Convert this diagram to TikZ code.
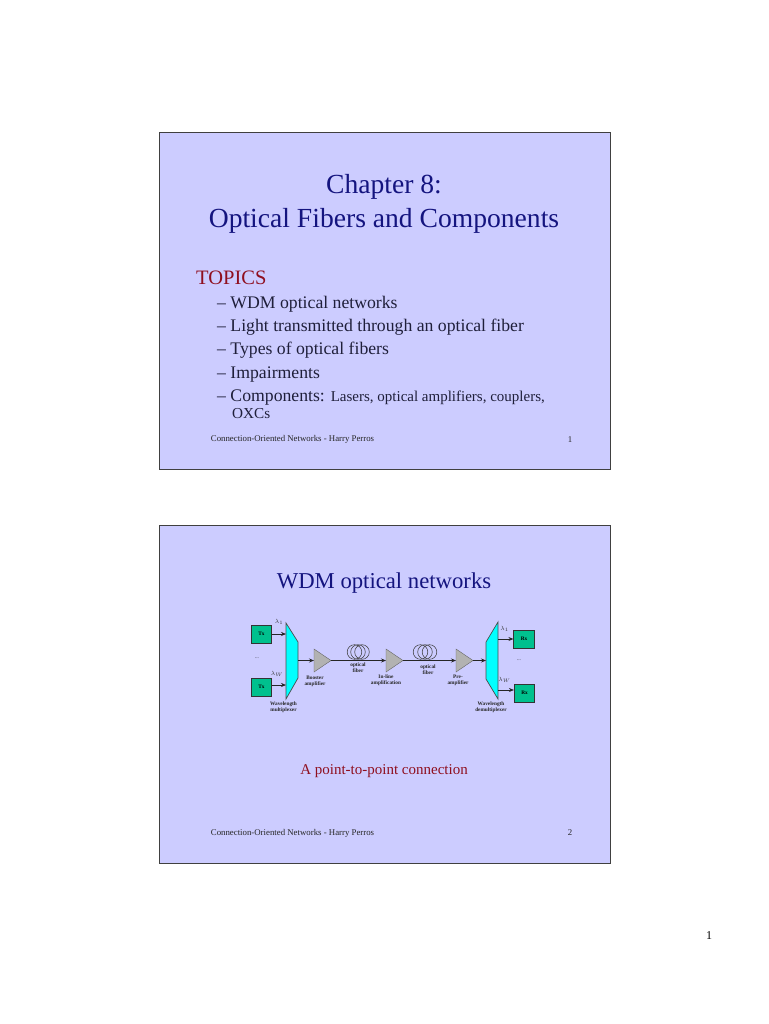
\documentclass[tikz,border=0pt]{standalone}
\usepackage{fontspec}
\setmainfont{Liberation Serif}
\usepackage{xcolor}
\usetikzlibrary{arrows.meta}
\definecolor{slidebg}{HTML}{CCCCFF}
\definecolor{titleblue}{HTML}{14147F}
\definecolor{topicred}{HTML}{8F0F1F}
\definecolor{bodyink}{HTML}{1F1F3A}
\definecolor{txgreen}{HTML}{00C08E}
\definecolor{muxcyan}{HTML}{00FFFF}
\definecolor{ampgray}{HTML}{B2B2B2}
\tikzset{
    slide/.style={draw=black!75, line width=0.9pt, fill=slidebg},
    titletext/.style={text=titleblue, font=\fontsize{27.6}{27.6}\selectfont, inner sep=0pt},
    subtitle/.style={text=titleblue, font=\fontsize{22.7}{22.7}\selectfont, inner sep=0pt},
    bullet/.style={text=bodyink, anchor=base west, font=\fontsize{17.7}{17.7}\selectfont, inner sep=0pt},
    footer/.style={text=black!85, font=\fontsize{8.8}{8.8}\selectfont, inner sep=0pt},
    tiny/.style={text=black!85, font=\fontsize{5.3}{5.5}\selectfont\bfseries, inner sep=0pt, align=center},
    lam/.style={text=black!80, font=\fontsize{5.6}{6}\selectfont, inner sep=0pt},
    endbox/.style={draw=black!80, line width=0.7pt, fill=txgreen, minimum width=20.5pt, minimum height=18pt, inner sep=0pt, text=black, font=\fontsize{5.3}{5.5}\selectfont\bfseries},
    muxshape/.style={draw=black!70, line width=0.7pt, fill=muxcyan},
    ampshape/.style={draw=black!60, line width=0.4pt, fill=ampgray},
    coil/.style={draw=black!75, line width=0.55pt},
    link/.style={line width=0.7pt, draw=black!85, -{Stealth[length=5pt,width=4pt]}},
}
\begin{document}
\begin{tikzpicture}[x=1pt,y=-1pt]
    \useasboundingbox[fill=white] (0,0) rectangle (768,1024);
    % slide frames
    \draw[slide] (159,132) rectangle (610,469);
    \draw[slide] (159,525) rectangle (610,863);
    % first slide
    \node[titletext] (chap) at (384,187) {Chapter 8:};
    \node[titletext] (chapname) at (384,220.5) {Optical Fibers and Components};
    \node[anchor=base west, inner sep=0pt, text=topicred, font=\fontsize{20.5}{20.5}\selectfont] (topics) at (196,284) {TOPICS};
    \node[bullet] (item1) at (217,308) {-- WDM optical networks};
    \node[bullet] (item2) at (217,331) {-- Light transmitted through an optical fiber};
    \node[bullet] (item3) at (217,354.5) {-- Types of optical fibers};
    \node[bullet] (item4) at (217,378) {-- Impairments};
    \node[bullet] (item5) at (217,401) {-- Components: {\fontsize{15}{15}\selectfont Lasers, optical amplifiers, couplers,}};
    \node[bullet, font=\fontsize{15.2}{15.2}\selectfont] (item5b) at (232,418) {OXCs};
    \node[footer] (foot1) at (292.5,439.5) {Connection-Oriented Networks - Harry Perros};
    \node[footer] (num1) at (570,439.5) {1};
    % second slide
    \node[subtitle] (wdm) at (384,583) {WDM optical networks};
    \node[inner sep=0pt, text=topicred, font=\fontsize{15}{15}\selectfont] (p2p) at (384,771) {A point-to-point connection};
    \node[footer] (foot2) at (292.5,833) {Connection-Oriented Networks - Harry Perros};
    \node[footer] (num2) at (570,833) {2};
    \node[inner sep=0pt, font=\fontsize{12}{12}\selectfont] (page) at (709,935.5) {1};
    % multiplexers
    \draw[muxshape] (286,623) -- (298,642) -- (298,678) -- (286,699) -- cycle;
    \draw[muxshape] (498,622) -- (486,642) -- (486,679) -- (498,699) -- cycle;
    \coordinate (muxin1) at (286,634);
    \coordinate (muxin2) at (286,685);
    \coordinate (muxout) at (298,660.5);
    \coordinate (demuxin) at (486,660.5);
    \coordinate (demuxout1) at (498,639);
    \coordinate (demuxout2) at (498,690);
    % amplifiers
    \foreach \x/\nm in {314/a,386/b,456/c}{
        \draw[ampshape] (\x,649) -- (\x+17,660.5) -- (\x,672) -- cycle;
        \coordinate (amp\nm-in) at (\x,660.5);
        \coordinate (amp\nm-out) at (\x+17,660.5);
    }
    % end boxes
    \node[endbox] (tx1) at (261.5,634) {Tx};
    \node[endbox] (tx2) at (261.5,687) {Tx};
    \node[endbox] (rx1) at (524,639) {Rx};
    \node[endbox] (rx2) at (524.5,693) {Rx};
    % links
    \draw[link] (tx1.east |- muxin1) -- (muxin1);
    \draw[link] (tx2.east |- muxin2) -- (muxin2);
    \draw[link] (muxout) -- (ampa-in);
    \draw[link] (ampa-out) -- (ampb-in);
    \draw[link] (ampb-out) -- (ampc-in);
    \draw[link] (ampc-out) -- (demuxin);
    \draw[link] (demuxout1) -- (rx1.west |- demuxout1);
    \draw[link] (demuxout2) -- (rx2.west |- demuxout2);
    % fiber coils
    \foreach \x in {354.5,358,362}{
        \draw[coil] (\x,652) circle[radius=7.3];
    }
    \foreach \x in {420.5,425,429.5}{
        \draw[coil] (\x,652) circle[radius=7.3];
    }
    % labels
    \node[lam] (lam1) at (279,622) {$\lambda_1$};
    \node[lam] (lam2) at (277,674) {$\lambda_W$};
    \node[lam] (lam3) at (504.5,629) {$\lambda_1$};
    \node[lam] (lam4) at (504.5,680) {$\lambda_W$};
    \node[tiny] (dots1) at (257,658) {\textmd{...}};
    \node[tiny] (dots2) at (519,660) {\textmd{...}};
    \node[tiny] (boost) at (315,681) {Booster\\[0.6pt]amplifier};
    \node[tiny] (fib1) at (358,668) {optical\\[0.6pt]fiber};
    \node[tiny] (inl) at (386,680) {In-line\\[0.6pt]amplification};
    \node[tiny] (fib2) at (428,669.5) {optical\\[0.6pt]fiber};
    \node[tiny] (pre) at (458,680) {Pre-\\[0.6pt]amplifier};
    \node[tiny] (mux) at (283.5,707.5) {Wavelength\\[0.6pt]multiplexer};
    \node[tiny] (demux) at (491,707.5) {Wavelength\\[0.6pt]demultiplexer};
\end{tikzpicture}
\end{document}
